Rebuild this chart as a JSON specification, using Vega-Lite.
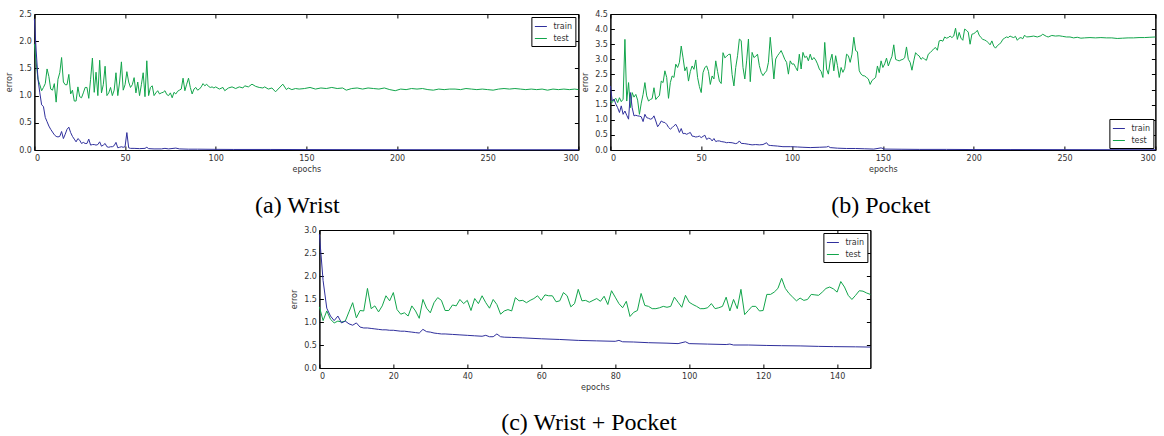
{
  "$schema": "https://vega.github.io/schema/vega-lite/v6.json",
  "padding": {"left": 5, "top": 9, "right": 2, "bottom": 2},
  "background": "white",
  "center": true,
  "spacing": 6,
  "resolve": {"scale": {"color": "independent"}, "legend": {"color": "independent"}},
  "datasets": {
    "a": [
      {"series":"test","epoch":0,"error":1.95},{"series":"test","epoch":1,"error":1.6},{"series":"test","epoch":2,"error":1.3},{"series":"test","epoch":3,"error":1.2},{"series":"test","epoch":4,"error":1.09},{"series":"test","epoch":5,"error":1.15},{"series":"test","epoch":6,"error":1.22},{"series":"test","epoch":7,"error":1.49},{"series":"test","epoch":8,"error":1.35},{"series":"test","epoch":9,"error":1.12},{"series":"test","epoch":10,"error":1.1},{"series":"test","epoch":11,"error":1.22},{"series":"test","epoch":12,"error":0.88},{"series":"test","epoch":13,"error":1.3},{"series":"test","epoch":14,"error":1.42},{"series":"test","epoch":15,"error":1.7},{"series":"test","epoch":16,"error":1.25},{"series":"test","epoch":17,"error":1.2},{"series":"test","epoch":18,"error":1.2},{"series":"test","epoch":19,"error":1.39},{"series":"test","epoch":20,"error":1.03},{"series":"test","epoch":21,"error":1.1},{"series":"test","epoch":22,"error":0.9},{"series":"test","epoch":23,"error":0.9},{"series":"test","epoch":24,"error":1.16},{"series":"test","epoch":25,"error":0.98},{"series":"test","epoch":26,"error":0.96},{"series":"test","epoch":27,"error":1.05},{"series":"test","epoch":28,"error":1.15},{"series":"test","epoch":29,"error":1.15},{"series":"test","epoch":30,"error":0.95},{"series":"test","epoch":31,"error":1.3},{"series":"test","epoch":32,"error":1.69},{"series":"test","epoch":33,"error":1.06},{"series":"test","epoch":34,"error":1.43},{"series":"test","epoch":35,"error":1.0},{"series":"test","epoch":36,"error":1.65},{"series":"test","epoch":37,"error":1.05},{"series":"test","epoch":38,"error":1.2},{"series":"test","epoch":39,"error":1.54},{"series":"test","epoch":40,"error":1.0},{"series":"test","epoch":41,"error":1.05},{"series":"test","epoch":42,"error":1.15},{"series":"test","epoch":43,"error":1.0},{"series":"test","epoch":44,"error":1.1},{"series":"test","epoch":45,"error":1.42},{"series":"test","epoch":46,"error":1.0},{"series":"test","epoch":47,"error":1.25},{"series":"test","epoch":48,"error":1.62},{"series":"test","epoch":49,"error":1.1},{"series":"test","epoch":50,"error":1.2},{"series":"test","epoch":51,"error":1.44},{"series":"test","epoch":52,"error":1.25},{"series":"test","epoch":53,"error":1.15},{"series":"test","epoch":54,"error":1.2},{"series":"test","epoch":55,"error":1.33},{"series":"test","epoch":56,"error":1.05},{"series":"test","epoch":57,"error":1.25},{"series":"test","epoch":58,"error":1.0},{"series":"test","epoch":59,"error":1.2},{"series":"test","epoch":60,"error":1.42},{"series":"test","epoch":61,"error":0.98},{"series":"test","epoch":62,"error":1.64},{"series":"test","epoch":63,"error":1.0},{"series":"test","epoch":64,"error":1.15},{"series":"test","epoch":65,"error":1.18},{"series":"test","epoch":66,"error":1.0},{"series":"test","epoch":67,"error":1.05},{"series":"test","epoch":68,"error":1.09},{"series":"test","epoch":69,"error":1.03},{"series":"test","epoch":70,"error":1.05},{"series":"test","epoch":71,"error":1.06},{"series":"test","epoch":72,"error":1.09},{"series":"test","epoch":73,"error":1.02},{"series":"test","epoch":74,"error":1.0},{"series":"test","epoch":75,"error":1.05},{"series":"test","epoch":76,"error":0.96},{"series":"test","epoch":77,"error":1.06},{"series":"test","epoch":78,"error":1.03},{"series":"test","epoch":79,"error":1.08},{"series":"test","epoch":80,"error":1.1},{"series":"test","epoch":81,"error":1.12},{"series":"test","epoch":82,"error":1.32},{"series":"test","epoch":83,"error":1.09},{"series":"test","epoch":84,"error":1.21},{"series":"test","epoch":85,"error":1.32},{"series":"test","epoch":86,"error":1.15},{"series":"test","epoch":87,"error":1.03},{"series":"test","epoch":88,"error":1.12},{"series":"test","epoch":89,"error":1.15},{"series":"test","epoch":90,"error":1.1},{"series":"test","epoch":91,"error":1.12},{"series":"test","epoch":92,"error":1.16},{"series":"test","epoch":93,"error":1.22},{"series":"test","epoch":94,"error":1.18},{"series":"test","epoch":95,"error":1.21},{"series":"test","epoch":96,"error":1.17},{"series":"test","epoch":97,"error":1.15},{"series":"test","epoch":98,"error":1.16},{"series":"test","epoch":99,"error":1.14},{"series":"test","epoch":100,"error":1.16},{"series":"test","epoch":102,"error":1.12},{"series":"test","epoch":104,"error":1.15},{"series":"test","epoch":105,"error":1.09},{"series":"test","epoch":107,"error":1.14},{"series":"test","epoch":109,"error":1.16},{"series":"test","epoch":111,"error":1.13},{"series":"test","epoch":113,"error":1.16},{"series":"test","epoch":115,"error":1.14},{"series":"test","epoch":116,"error":1.18},{"series":"test","epoch":118,"error":1.16},{"series":"test","epoch":120,"error":1.21},{"series":"test","epoch":122,"error":1.17},{"series":"test","epoch":124,"error":1.15},{"series":"test","epoch":126,"error":1.14},{"series":"test","epoch":127,"error":1.16},{"series":"test","epoch":129,"error":1.12},{"series":"test","epoch":131,"error":1.14},{"series":"test","epoch":133,"error":1.07},{"series":"test","epoch":135,"error":1.14},{"series":"test","epoch":137,"error":1.21},{"series":"test","epoch":139,"error":1.11},{"series":"test","epoch":140,"error":1.14},{"series":"test","epoch":142,"error":1.11},{"series":"test","epoch":144,"error":1.13},{"series":"test","epoch":146,"error":1.12},{"series":"test","epoch":149,"error":1.13},{"series":"test","epoch":152,"error":1.15},{"series":"test","epoch":155,"error":1.12},{"series":"test","epoch":158,"error":1.14},{"series":"test","epoch":161,"error":1.13},{"series":"test","epoch":164,"error":1.15},{"series":"test","epoch":167,"error":1.13},{"series":"test","epoch":170,"error":1.14},{"series":"test","epoch":172,"error":1.1},{"series":"test","epoch":175,"error":1.13},{"series":"test","epoch":178,"error":1.14},{"series":"test","epoch":181,"error":1.12},{"series":"test","epoch":184,"error":1.14},{"series":"test","epoch":187,"error":1.13},{"series":"test","epoch":190,"error":1.12},{"series":"test","epoch":193,"error":1.14},{"series":"test","epoch":196,"error":1.11},{"series":"test","epoch":199,"error":1.09},{"series":"test","epoch":202,"error":1.12},{"series":"test","epoch":205,"error":1.11},{"series":"test","epoch":208,"error":1.13},{"series":"test","epoch":211,"error":1.12},{"series":"test","epoch":214,"error":1.13},{"series":"test","epoch":217,"error":1.11},{"series":"test","epoch":220,"error":1.1},{"series":"test","epoch":223,"error":1.12},{"series":"test","epoch":226,"error":1.11},{"series":"test","epoch":229,"error":1.12},{"series":"test","epoch":232,"error":1.12},{"series":"test","epoch":235,"error":1.11},{"series":"test","epoch":238,"error":1.13},{"series":"test","epoch":241,"error":1.12},{"series":"test","epoch":244,"error":1.11},{"series":"test","epoch":247,"error":1.12},{"series":"test","epoch":250,"error":1.11},{"series":"test","epoch":253,"error":1.1},{"series":"test","epoch":256,"error":1.12},{"series":"test","epoch":259,"error":1.13},{"series":"test","epoch":262,"error":1.12},{"series":"test","epoch":265,"error":1.13},{"series":"test","epoch":268,"error":1.12},{"series":"test","epoch":271,"error":1.11},{"series":"test","epoch":274,"error":1.12},{"series":"test","epoch":277,"error":1.11},{"series":"test","epoch":280,"error":1.12},{"series":"test","epoch":283,"error":1.1},{"series":"test","epoch":286,"error":1.12},{"series":"test","epoch":289,"error":1.11},{"series":"test","epoch":292,"error":1.12},{"series":"test","epoch":295,"error":1.11},{"series":"test","epoch":298,"error":1.12},{"series":"test","epoch":300,"error":1.11},
      {"series":"train","epoch":0,"error":2.41},{"series":"train","epoch":1,"error":1.82},{"series":"train","epoch":2,"error":1.3},{"series":"train","epoch":3,"error":1.05},{"series":"train","epoch":4,"error":0.83},{"series":"train","epoch":5,"error":0.8},{"series":"train","epoch":6,"error":0.6},{"series":"train","epoch":7,"error":0.52},{"series":"train","epoch":8,"error":0.44},{"series":"train","epoch":9,"error":0.38},{"series":"train","epoch":10,"error":0.33},{"series":"train","epoch":11,"error":0.28},{"series":"train","epoch":12,"error":0.25},{"series":"train","epoch":13,"error":0.24},{"series":"train","epoch":14,"error":0.25},{"series":"train","epoch":15,"error":0.34},{"series":"train","epoch":16,"error":0.21},{"series":"train","epoch":17,"error":0.29},{"series":"train","epoch":18,"error":0.38},{"series":"train","epoch":19,"error":0.42},{"series":"train","epoch":20,"error":0.32},{"series":"train","epoch":21,"error":0.25},{"series":"train","epoch":22,"error":0.2},{"series":"train","epoch":23,"error":0.15},{"series":"train","epoch":24,"error":0.21},{"series":"train","epoch":25,"error":0.18},{"series":"train","epoch":26,"error":0.12},{"series":"train","epoch":27,"error":0.14},{"series":"train","epoch":28,"error":0.12},{"series":"train","epoch":29,"error":0.12},{"series":"train","epoch":30,"error":0.2},{"series":"train","epoch":31,"error":0.09},{"series":"train","epoch":32,"error":0.1},{"series":"train","epoch":33,"error":0.1},{"series":"train","epoch":34,"error":0.09},{"series":"train","epoch":35,"error":0.1},{"series":"train","epoch":36,"error":0.15},{"series":"train","epoch":37,"error":0.07},{"series":"train","epoch":38,"error":0.09},{"series":"train","epoch":39,"error":0.12},{"series":"train","epoch":40,"error":0.06},{"series":"train","epoch":41,"error":0.05},{"series":"train","epoch":42,"error":0.06},{"series":"train","epoch":43,"error":0.06},{"series":"train","epoch":44,"error":0.08},{"series":"train","epoch":45,"error":0.14},{"series":"train","epoch":46,"error":0.04},{"series":"train","epoch":47,"error":0.05},{"series":"train","epoch":48,"error":0.06},{"series":"train","epoch":49,"error":0.05},{"series":"train","epoch":50,"error":0.06},{"series":"train","epoch":51,"error":0.32},{"series":"train","epoch":52,"error":0.04},{"series":"train","epoch":53,"error":0.03},{"series":"train","epoch":55,"error":0.03},{"series":"train","epoch":58,"error":0.025},{"series":"train","epoch":61,"error":0.03},{"series":"train","epoch":62,"error":0.05},{"series":"train","epoch":63,"error":0.025},{"series":"train","epoch":66,"error":0.02},{"series":"train","epoch":70,"error":0.02},{"series":"train","epoch":72,"error":0.03},{"series":"train","epoch":74,"error":0.02},{"series":"train","epoch":78,"error":0.035},{"series":"train","epoch":80,"error":0.02},{"series":"train","epoch":85,"error":0.015},{"series":"train","epoch":90,"error":0.015},{"series":"train","epoch":100,"error":0.012},{"series":"train","epoch":110,"error":0.01},{"series":"train","epoch":130,"error":0.01},{"series":"train","epoch":150,"error":0.008},{"series":"train","epoch":200,"error":0.006},{"series":"train","epoch":250,"error":0.005},{"series":"train","epoch":300,"error":0.005}
    ],
    "b": [
      {"series":"test","epoch":0,"error":1.62},{"series":"test","epoch":1,"error":1.57},{"series":"test","epoch":2,"error":1.66},{"series":"test","epoch":3,"error":1.71},{"series":"test","epoch":4,"error":1.57},{"series":"test","epoch":5,"error":1.73},{"series":"test","epoch":6,"error":1.6},{"series":"test","epoch":7,"error":1.68},{"series":"test","epoch":8,"error":3.66},{"series":"test","epoch":9,"error":1.62},{"series":"test","epoch":10,"error":2.23},{"series":"test","epoch":11,"error":1.4},{"series":"test","epoch":12,"error":1.9},{"series":"test","epoch":13,"error":1.75},{"series":"test","epoch":14,"error":1.84},{"series":"test","epoch":15,"error":1.65},{"series":"test","epoch":16,"error":1.18},{"series":"test","epoch":17,"error":1.55},{"series":"test","epoch":18,"error":1.84},{"series":"test","epoch":19,"error":2.23},{"series":"test","epoch":20,"error":1.79},{"series":"test","epoch":21,"error":1.62},{"series":"test","epoch":22,"error":1.67},{"series":"test","epoch":23,"error":1.7},{"series":"test","epoch":24,"error":2.06},{"series":"test","epoch":25,"error":1.67},{"series":"test","epoch":26,"error":1.75},{"series":"test","epoch":27,"error":1.8},{"series":"test","epoch":28,"error":2.28},{"series":"test","epoch":29,"error":2.23},{"series":"test","epoch":30,"error":2.62},{"series":"test","epoch":31,"error":2.4},{"series":"test","epoch":32,"error":1.71},{"series":"test","epoch":33,"error":2.23},{"series":"test","epoch":34,"error":2.45},{"series":"test","epoch":35,"error":2.4},{"series":"test","epoch":36,"error":2.84},{"series":"test","epoch":37,"error":2.73},{"series":"test","epoch":38,"error":2.9},{"series":"test","epoch":39,"error":3.44},{"series":"test","epoch":40,"error":3.05},{"series":"test","epoch":41,"error":2.62},{"series":"test","epoch":42,"error":2.75},{"series":"test","epoch":43,"error":2.28},{"series":"test","epoch":44,"error":2.6},{"series":"test","epoch":45,"error":2.78},{"series":"test","epoch":46,"error":2.67},{"series":"test","epoch":47,"error":2.98},{"series":"test","epoch":48,"error":2.4},{"series":"test","epoch":49,"error":2.1},{"series":"test","epoch":50,"error":1.9},{"series":"test","epoch":51,"error":2.56},{"series":"test","epoch":52,"error":2.73},{"series":"test","epoch":53,"error":2.78},{"series":"test","epoch":54,"error":2.6},{"series":"test","epoch":55,"error":2.17},{"series":"test","epoch":56,"error":2.45},{"series":"test","epoch":57,"error":2.35},{"series":"test","epoch":58,"error":2.95},{"series":"test","epoch":59,"error":2.6},{"series":"test","epoch":60,"error":2.28},{"series":"test","epoch":61,"error":2.2},{"series":"test","epoch":62,"error":3.22},{"series":"test","epoch":63,"error":3.05},{"series":"test","epoch":64,"error":3.1},{"series":"test","epoch":65,"error":3.16},{"series":"test","epoch":66,"error":3.17},{"series":"test","epoch":67,"error":2.5},{"series":"test","epoch":68,"error":2.12},{"series":"test","epoch":69,"error":2.73},{"series":"test","epoch":70,"error":3.12},{"series":"test","epoch":71,"error":3.67},{"series":"test","epoch":72,"error":3.62},{"series":"test","epoch":73,"error":2.73},{"series":"test","epoch":74,"error":2.35},{"series":"test","epoch":75,"error":2.95},{"series":"test","epoch":76,"error":3.67},{"series":"test","epoch":77,"error":2.26},{"series":"test","epoch":78,"error":3.23},{"series":"test","epoch":79,"error":3.06},{"series":"test","epoch":80,"error":3.1},{"series":"test","epoch":81,"error":3.17},{"series":"test","epoch":82,"error":2.79},{"series":"test","epoch":83,"error":2.57},{"series":"test","epoch":84,"error":2.46},{"series":"test","epoch":85,"error":2.55},{"series":"test","epoch":86,"error":2.62},{"series":"test","epoch":87,"error":2.9},{"series":"test","epoch":88,"error":3.73},{"series":"test","epoch":89,"error":3.05},{"series":"test","epoch":90,"error":2.35},{"series":"test","epoch":91,"error":3.01},{"series":"test","epoch":92,"error":3.12},{"series":"test","epoch":93,"error":3.2},{"series":"test","epoch":94,"error":3.29},{"series":"test","epoch":95,"error":3.15},{"series":"test","epoch":96,"error":3.0},{"series":"test","epoch":97,"error":2.9},{"series":"test","epoch":98,"error":2.51},{"series":"test","epoch":99,"error":2.95},{"series":"test","epoch":100,"error":2.84},{"series":"test","epoch":101,"error":2.85},{"series":"test","epoch":102,"error":2.73},{"series":"test","epoch":103,"error":2.62},{"series":"test","epoch":104,"error":3.17},{"series":"test","epoch":105,"error":2.68},{"series":"test","epoch":106,"error":3.23},{"series":"test","epoch":107,"error":3.06},{"series":"test","epoch":108,"error":3.1},{"series":"test","epoch":109,"error":2.95},{"series":"test","epoch":110,"error":3.17},{"series":"test","epoch":111,"error":2.98},{"series":"test","epoch":112,"error":3.06},{"series":"test","epoch":113,"error":2.98},{"series":"test","epoch":114,"error":2.85},{"series":"test","epoch":115,"error":2.68},{"series":"test","epoch":116,"error":2.6},{"series":"test","epoch":117,"error":2.4},{"series":"test","epoch":118,"error":3.56},{"series":"test","epoch":119,"error":2.68},{"series":"test","epoch":120,"error":2.51},{"series":"test","epoch":121,"error":2.95},{"series":"test","epoch":122,"error":3.17},{"series":"test","epoch":123,"error":2.62},{"series":"test","epoch":124,"error":3.12},{"series":"test","epoch":125,"error":2.79},{"series":"test","epoch":126,"error":2.4},{"series":"test","epoch":127,"error":2.73},{"series":"test","epoch":128,"error":2.57},{"series":"test","epoch":129,"error":2.7},{"series":"test","epoch":130,"error":3.17},{"series":"test","epoch":131,"error":3.12},{"series":"test","epoch":132,"error":2.9},{"series":"test","epoch":133,"error":3.17},{"series":"test","epoch":134,"error":3.73},{"series":"test","epoch":135,"error":3.29},{"series":"test","epoch":136,"error":3.25},{"series":"test","epoch":137,"error":2.62},{"series":"test","epoch":138,"error":2.51},{"series":"test","epoch":139,"error":2.46},{"series":"test","epoch":140,"error":2.45},{"series":"test","epoch":141,"error":2.4},{"series":"test","epoch":142,"error":2.35},{"series":"test","epoch":143,"error":2.17},{"series":"test","epoch":144,"error":2.3},{"series":"test","epoch":145,"error":2.35},{"series":"test","epoch":146,"error":2.4},{"series":"test","epoch":147,"error":2.78},{"series":"test","epoch":148,"error":2.56},{"series":"test","epoch":149,"error":2.95},{"series":"test","epoch":150,"error":2.73},{"series":"test","epoch":151,"error":2.85},{"series":"test","epoch":152,"error":3.04},{"series":"test","epoch":153,"error":2.78},{"series":"test","epoch":154,"error":2.95},{"series":"test","epoch":155,"error":3.1},{"series":"test","epoch":156,"error":3.48},{"series":"test","epoch":157,"error":3.0},{"series":"test","epoch":158,"error":2.97},{"series":"test","epoch":159,"error":2.95},{"series":"test","epoch":160,"error":2.98},{"series":"test","epoch":161,"error":3.0},{"series":"test","epoch":162,"error":3.05},{"series":"test","epoch":163,"error":3.41},{"series":"test","epoch":164,"error":3.0},{"series":"test","epoch":165,"error":2.9},{"series":"test","epoch":166,"error":2.64},{"series":"test","epoch":167,"error":2.95},{"series":"test","epoch":168,"error":3.22},{"series":"test","epoch":169,"error":3.15},{"series":"test","epoch":170,"error":3.11},{"series":"test","epoch":171,"error":3.0},{"series":"test","epoch":172,"error":3.06},{"series":"test","epoch":173,"error":3.0},{"series":"test","epoch":174,"error":2.97},{"series":"test","epoch":175,"error":3.17},{"series":"test","epoch":176,"error":3.22},{"series":"test","epoch":177,"error":3.28},{"series":"test","epoch":178,"error":3.35},{"series":"test","epoch":179,"error":3.39},{"series":"test","epoch":180,"error":3.3},{"series":"test","epoch":181,"error":3.61},{"series":"test","epoch":182,"error":3.63},{"series":"test","epoch":183,"error":3.6},{"series":"test","epoch":184,"error":3.74},{"series":"test","epoch":185,"error":3.7},{"series":"test","epoch":186,"error":3.72},{"series":"test","epoch":187,"error":3.77},{"series":"test","epoch":188,"error":3.72},{"series":"test","epoch":189,"error":3.77},{"series":"test","epoch":190,"error":4.03},{"series":"test","epoch":191,"error":3.66},{"series":"test","epoch":192,"error":3.89},{"series":"test","epoch":193,"error":3.7},{"series":"test","epoch":194,"error":3.63},{"series":"test","epoch":195,"error":4.0},{"series":"test","epoch":196,"error":3.96},{"series":"test","epoch":197,"error":3.9},{"series":"test","epoch":198,"error":3.5},{"series":"test","epoch":199,"error":3.83},{"series":"test","epoch":200,"error":3.85},{"series":"test","epoch":201,"error":3.89},{"series":"test","epoch":202,"error":3.96},{"series":"test","epoch":203,"error":3.8},{"series":"test","epoch":204,"error":3.72},{"series":"test","epoch":205,"error":3.66},{"series":"test","epoch":206,"error":3.64},{"series":"test","epoch":207,"error":3.61},{"series":"test","epoch":208,"error":3.55},{"series":"test","epoch":209,"error":3.48},{"series":"test","epoch":210,"error":3.61},{"series":"test","epoch":211,"error":3.44},{"series":"test","epoch":212,"error":3.37},{"series":"test","epoch":213,"error":3.45},{"series":"test","epoch":214,"error":3.5},{"series":"test","epoch":215,"error":3.55},{"series":"test","epoch":216,"error":3.66},{"series":"test","epoch":217,"error":3.7},{"series":"test","epoch":218,"error":3.74},{"series":"test","epoch":219,"error":3.72},{"series":"test","epoch":220,"error":3.77},{"series":"test","epoch":221,"error":3.74},{"series":"test","epoch":222,"error":3.72},{"series":"test","epoch":223,"error":3.76},{"series":"test","epoch":224,"error":3.63},{"series":"test","epoch":225,"error":3.7},{"series":"test","epoch":226,"error":3.72},{"series":"test","epoch":227,"error":3.68},{"series":"test","epoch":228,"error":3.8},{"series":"test","epoch":229,"error":3.74},{"series":"test","epoch":231,"error":3.75},{"series":"test","epoch":233,"error":3.77},{"series":"test","epoch":235,"error":3.74},{"series":"test","epoch":237,"error":3.78},{"series":"test","epoch":238,"error":3.83},{"series":"test","epoch":240,"error":3.76},{"series":"test","epoch":241,"error":3.74},{"series":"test","epoch":243,"error":3.79},{"series":"test","epoch":245,"error":3.77},{"series":"test","epoch":247,"error":3.78},{"series":"test","epoch":249,"error":3.76},{"series":"test","epoch":251,"error":3.74},{"series":"test","epoch":253,"error":3.74},{"series":"test","epoch":255,"error":3.71},{"series":"test","epoch":257,"error":3.73},{"series":"test","epoch":259,"error":3.7},{"series":"test","epoch":261,"error":3.71},{"series":"test","epoch":264,"error":3.72},{"series":"test","epoch":267,"error":3.71},{"series":"test","epoch":270,"error":3.72},{"series":"test","epoch":273,"error":3.71},{"series":"test","epoch":276,"error":3.71},{"series":"test","epoch":279,"error":3.69},{"series":"test","epoch":282,"error":3.7},{"series":"test","epoch":285,"error":3.71},{"series":"test","epoch":288,"error":3.71},{"series":"test","epoch":291,"error":3.72},{"series":"test","epoch":294,"error":3.72},{"series":"test","epoch":297,"error":3.73},{"series":"test","epoch":300,"error":3.74},
      {"series":"train","epoch":0,"error":2.12},{"series":"train","epoch":1,"error":1.63},{"series":"train","epoch":2,"error":1.68},{"series":"train","epoch":3,"error":1.52},{"series":"train","epoch":4,"error":1.4},{"series":"train","epoch":5,"error":1.24},{"series":"train","epoch":6,"error":1.46},{"series":"train","epoch":7,"error":1.18},{"series":"train","epoch":8,"error":1.29},{"series":"train","epoch":9,"error":1.15},{"series":"train","epoch":10,"error":1.02},{"series":"train","epoch":11,"error":1.9},{"series":"train","epoch":12,"error":1.4},{"series":"train","epoch":13,"error":1.13},{"series":"train","epoch":14,"error":1.15},{"series":"train","epoch":15,"error":1.13},{"series":"train","epoch":16,"error":1.12},{"series":"train","epoch":17,"error":1.1},{"series":"train","epoch":18,"error":0.94},{"series":"train","epoch":19,"error":1.18},{"series":"train","epoch":20,"error":1.07},{"series":"train","epoch":21,"error":1.05},{"series":"train","epoch":22,"error":1.02},{"series":"train","epoch":23,"error":1.04},{"series":"train","epoch":24,"error":1.13},{"series":"train","epoch":25,"error":0.96},{"series":"train","epoch":26,"error":0.77},{"series":"train","epoch":27,"error":0.85},{"series":"train","epoch":28,"error":0.96},{"series":"train","epoch":29,"error":0.92},{"series":"train","epoch":30,"error":0.91},{"series":"train","epoch":31,"error":0.85},{"series":"train","epoch":32,"error":0.75},{"series":"train","epoch":33,"error":0.69},{"series":"train","epoch":34,"error":0.74},{"series":"train","epoch":35,"error":0.8},{"series":"train","epoch":36,"error":0.85},{"series":"train","epoch":37,"error":0.74},{"series":"train","epoch":38,"error":0.58},{"series":"train","epoch":39,"error":0.71},{"series":"train","epoch":40,"error":0.54},{"series":"train","epoch":41,"error":0.55},{"series":"train","epoch":42,"error":0.52},{"series":"train","epoch":43,"error":0.55},{"series":"train","epoch":44,"error":0.58},{"series":"train","epoch":45,"error":0.46},{"series":"train","epoch":46,"error":0.45},{"series":"train","epoch":47,"error":0.43},{"series":"train","epoch":48,"error":0.44},{"series":"train","epoch":49,"error":0.46},{"series":"train","epoch":50,"error":0.41},{"series":"train","epoch":51,"error":0.45},{"series":"train","epoch":52,"error":0.49},{"series":"train","epoch":53,"error":0.35},{"series":"train","epoch":54,"error":0.39},{"series":"train","epoch":55,"error":0.38},{"series":"train","epoch":56,"error":0.3},{"series":"train","epoch":57,"error":0.38},{"series":"train","epoch":58,"error":0.28},{"series":"train","epoch":59,"error":0.3},{"series":"train","epoch":60,"error":0.3},{"series":"train","epoch":61,"error":0.28},{"series":"train","epoch":62,"error":0.27},{"series":"train","epoch":63,"error":0.26},{"series":"train","epoch":64,"error":0.24},{"series":"train","epoch":65,"error":0.25},{"series":"train","epoch":67,"error":0.24},{"series":"train","epoch":69,"error":0.21},{"series":"train","epoch":70,"error":0.23},{"series":"train","epoch":71,"error":0.3},{"series":"train","epoch":72,"error":0.22},{"series":"train","epoch":74,"error":0.21},{"series":"train","epoch":76,"error":0.19},{"series":"train","epoch":78,"error":0.17},{"series":"train","epoch":80,"error":0.18},{"series":"train","epoch":82,"error":0.17},{"series":"train","epoch":84,"error":0.18},{"series":"train","epoch":86,"error":0.24},{"series":"train","epoch":87,"error":0.16},{"series":"train","epoch":88,"error":0.15},{"series":"train","epoch":90,"error":0.14},{"series":"train","epoch":92,"error":0.13},{"series":"train","epoch":95,"error":0.11},{"series":"train","epoch":99,"error":0.11},{"series":"train","epoch":103,"error":0.1},{"series":"train","epoch":106,"error":0.09},{"series":"train","epoch":110,"error":0.08},{"series":"train","epoch":115,"error":0.09},{"series":"train","epoch":119,"error":0.1},{"series":"train","epoch":120,"error":0.12},{"series":"train","epoch":121,"error":0.08},{"series":"train","epoch":125,"error":0.06},{"series":"train","epoch":130,"error":0.05},{"series":"train","epoch":135,"error":0.05},{"series":"train","epoch":140,"error":0.04},{"series":"train","epoch":145,"error":0.03},{"series":"train","epoch":149,"error":0.07},{"series":"train","epoch":151,"error":0.03},{"series":"train","epoch":160,"error":0.025},{"series":"train","epoch":170,"error":0.02},{"series":"train","epoch":185,"error":0.02},{"series":"train","epoch":200,"error":0.015},{"series":"train","epoch":220,"error":0.015},{"series":"train","epoch":250,"error":0.012},{"series":"train","epoch":280,"error":0.01},{"series":"train","epoch":300,"error":0.01}
    ],
    "c": [
      {"series":"test","epoch":0,"error":1.33},{"series":"test","epoch":1,"error":1.03},{"series":"test","epoch":2,"error":1.24},{"series":"test","epoch":3,"error":1.06},{"series":"test","epoch":4,"error":0.98},{"series":"test","epoch":5,"error":1.02},{"series":"test","epoch":6,"error":1.0},{"series":"test","epoch":7,"error":1.02},{"series":"test","epoch":8,"error":1.22},{"series":"test","epoch":9,"error":1.42},{"series":"test","epoch":10,"error":1.09},{"series":"test","epoch":11,"error":1.25},{"series":"test","epoch":12,"error":1.24},{"series":"test","epoch":13,"error":1.73},{"series":"test","epoch":14,"error":1.29},{"series":"test","epoch":15,"error":1.35},{"series":"test","epoch":16,"error":1.22},{"series":"test","epoch":17,"error":1.35},{"series":"test","epoch":18,"error":1.57},{"series":"test","epoch":19,"error":1.46},{"series":"test","epoch":20,"error":1.64},{"series":"test","epoch":21,"error":1.27},{"series":"test","epoch":22,"error":1.17},{"series":"test","epoch":23,"error":1.2},{"series":"test","epoch":24,"error":1.13},{"series":"test","epoch":25,"error":1.35},{"series":"test","epoch":26,"error":1.24},{"series":"test","epoch":27,"error":1.08},{"series":"test","epoch":28,"error":1.49},{"series":"test","epoch":29,"error":1.3},{"series":"test","epoch":30,"error":1.2},{"series":"test","epoch":31,"error":1.42},{"series":"test","epoch":32,"error":1.53},{"series":"test","epoch":33,"error":1.47},{"series":"test","epoch":34,"error":1.25},{"series":"test","epoch":35,"error":1.25},{"series":"test","epoch":36,"error":1.37},{"series":"test","epoch":37,"error":1.35},{"series":"test","epoch":38,"error":1.49},{"series":"test","epoch":39,"error":1.4},{"series":"test","epoch":40,"error":1.47},{"series":"test","epoch":41,"error":1.25},{"series":"test","epoch":42,"error":1.51},{"series":"test","epoch":43,"error":1.4},{"series":"test","epoch":44,"error":1.57},{"series":"test","epoch":45,"error":1.42},{"series":"test","epoch":46,"error":1.3},{"series":"test","epoch":47,"error":1.49},{"series":"test","epoch":48,"error":1.38},{"series":"test","epoch":49,"error":1.17},{"series":"test","epoch":50,"error":1.24},{"series":"test","epoch":51,"error":1.27},{"series":"test","epoch":52,"error":1.24},{"series":"test","epoch":53,"error":1.53},{"series":"test","epoch":54,"error":1.46},{"series":"test","epoch":55,"error":1.47},{"series":"test","epoch":56,"error":1.42},{"series":"test","epoch":57,"error":1.47},{"series":"test","epoch":58,"error":1.51},{"series":"test","epoch":59,"error":1.57},{"series":"test","epoch":60,"error":1.47},{"series":"test","epoch":61,"error":1.59},{"series":"test","epoch":62,"error":1.57},{"series":"test","epoch":63,"error":1.57},{"series":"test","epoch":64,"error":1.44},{"series":"test","epoch":65,"error":1.46},{"series":"test","epoch":66,"error":1.64},{"series":"test","epoch":67,"error":1.57},{"series":"test","epoch":68,"error":1.33},{"series":"test","epoch":69,"error":1.4},{"series":"test","epoch":70,"error":1.71},{"series":"test","epoch":71,"error":1.46},{"series":"test","epoch":72,"error":1.47},{"series":"test","epoch":73,"error":1.43},{"series":"test","epoch":74,"error":1.47},{"series":"test","epoch":75,"error":1.51},{"series":"test","epoch":76,"error":1.45},{"series":"test","epoch":77,"error":1.56},{"series":"test","epoch":78,"error":1.38},{"series":"test","epoch":79,"error":1.68},{"series":"test","epoch":80,"error":1.54},{"series":"test","epoch":81,"error":1.4},{"series":"test","epoch":82,"error":1.31},{"series":"test","epoch":83,"error":1.45},{"series":"test","epoch":84,"error":1.12},{"series":"test","epoch":85,"error":1.21},{"series":"test","epoch":86,"error":1.25},{"series":"test","epoch":87,"error":1.62},{"series":"test","epoch":88,"error":1.36},{"series":"test","epoch":89,"error":1.34},{"series":"test","epoch":90,"error":1.29},{"series":"test","epoch":91,"error":1.29},{"series":"test","epoch":92,"error":1.31},{"series":"test","epoch":93,"error":1.34},{"series":"test","epoch":94,"error":1.32},{"series":"test","epoch":95,"error":1.34},{"series":"test","epoch":96,"error":1.54},{"series":"test","epoch":97,"error":1.43},{"series":"test","epoch":98,"error":1.32},{"series":"test","epoch":99,"error":1.58},{"series":"test","epoch":100,"error":1.43},{"series":"test","epoch":101,"error":1.38},{"series":"test","epoch":102,"error":1.34},{"series":"test","epoch":103,"error":1.29},{"series":"test","epoch":104,"error":1.29},{"series":"test","epoch":105,"error":1.31},{"series":"test","epoch":106,"error":1.4},{"series":"test","epoch":107,"error":1.29},{"series":"test","epoch":108,"error":1.31},{"series":"test","epoch":109,"error":1.34},{"series":"test","epoch":110,"error":1.54},{"series":"test","epoch":111,"error":1.24},{"series":"test","epoch":112,"error":1.49},{"series":"test","epoch":113,"error":1.29},{"series":"test","epoch":114,"error":1.71},{"series":"test","epoch":115,"error":1.16},{"series":"test","epoch":116,"error":1.25},{"series":"test","epoch":117,"error":1.34},{"series":"test","epoch":118,"error":1.34},{"series":"test","epoch":119,"error":1.24},{"series":"test","epoch":120,"error":1.25},{"series":"test","epoch":121,"error":1.6},{"series":"test","epoch":122,"error":1.6},{"series":"test","epoch":123,"error":1.65},{"series":"test","epoch":124,"error":1.73},{"series":"test","epoch":125,"error":1.95},{"series":"test","epoch":126,"error":1.73},{"series":"test","epoch":127,"error":1.62},{"series":"test","epoch":128,"error":1.54},{"series":"test","epoch":129,"error":1.46},{"series":"test","epoch":130,"error":1.52},{"series":"test","epoch":131,"error":1.47},{"series":"test","epoch":132,"error":1.49},{"series":"test","epoch":133,"error":1.6},{"series":"test","epoch":134,"error":1.59},{"series":"test","epoch":135,"error":1.58},{"series":"test","epoch":136,"error":1.65},{"series":"test","epoch":137,"error":1.73},{"series":"test","epoch":138,"error":1.76},{"series":"test","epoch":139,"error":1.72},{"series":"test","epoch":140,"error":1.65},{"series":"test","epoch":141,"error":1.88},{"series":"test","epoch":142,"error":1.76},{"series":"test","epoch":143,"error":1.58},{"series":"test","epoch":144,"error":1.49},{"series":"test","epoch":145,"error":1.58},{"series":"test","epoch":146,"error":1.68},{"series":"test","epoch":147,"error":1.67},{"series":"test","epoch":148,"error":1.63},{"series":"test","epoch":149,"error":1.6},
      {"series":"train","epoch":0,"error":2.91},{"series":"train","epoch":1,"error":1.9},{"series":"train","epoch":2,"error":1.3},{"series":"train","epoch":3,"error":1.13},{"series":"train","epoch":4,"error":1.03},{"series":"train","epoch":5,"error":1.13},{"series":"train","epoch":6,"error":0.98},{"series":"train","epoch":7,"error":1.02},{"series":"train","epoch":8,"error":0.96},{"series":"train","epoch":9,"error":0.93},{"series":"train","epoch":10,"error":0.98},{"series":"train","epoch":11,"error":0.89},{"series":"train","epoch":12,"error":0.87},{"series":"train","epoch":13,"error":0.87},{"series":"train","epoch":14,"error":0.86},{"series":"train","epoch":15,"error":0.85},{"series":"train","epoch":16,"error":0.84},{"series":"train","epoch":17,"error":0.83},{"series":"train","epoch":18,"error":0.83},{"series":"train","epoch":19,"error":0.82},{"series":"train","epoch":20,"error":0.82},{"series":"train","epoch":21,"error":0.81},{"series":"train","epoch":22,"error":0.8},{"series":"train","epoch":23,"error":0.8},{"series":"train","epoch":24,"error":0.79},{"series":"train","epoch":25,"error":0.78},{"series":"train","epoch":26,"error":0.77},{"series":"train","epoch":27,"error":0.76},{"series":"train","epoch":28,"error":0.84},{"series":"train","epoch":29,"error":0.79},{"series":"train","epoch":30,"error":0.78},{"series":"train","epoch":31,"error":0.76},{"series":"train","epoch":32,"error":0.75},{"series":"train","epoch":33,"error":0.74},{"series":"train","epoch":34,"error":0.74},{"series":"train","epoch":36,"error":0.73},{"series":"train","epoch":38,"error":0.72},{"series":"train","epoch":40,"error":0.71},{"series":"train","epoch":42,"error":0.7},{"series":"train","epoch":44,"error":0.69},{"series":"train","epoch":45,"error":0.71},{"series":"train","epoch":46,"error":0.68},{"series":"train","epoch":47,"error":0.68},{"series":"train","epoch":48,"error":0.74},{"series":"train","epoch":49,"error":0.68},{"series":"train","epoch":50,"error":0.67},{"series":"train","epoch":52,"error":0.665},{"series":"train","epoch":55,"error":0.655},{"series":"train","epoch":60,"error":0.635},{"series":"train","epoch":65,"error":0.62},{"series":"train","epoch":70,"error":0.6},{"series":"train","epoch":75,"error":0.59},{"series":"train","epoch":80,"error":0.58},{"series":"train","epoch":81,"error":0.6},{"series":"train","epoch":82,"error":0.57},{"series":"train","epoch":85,"error":0.565},{"series":"train","epoch":89,"error":0.55},{"series":"train","epoch":94,"error":0.54},{"series":"train","epoch":97,"error":0.53},{"series":"train","epoch":99,"error":0.57},{"series":"train","epoch":100,"error":0.53},{"series":"train","epoch":105,"error":0.52},{"series":"train","epoch":110,"error":0.51},{"series":"train","epoch":111,"error":0.52},{"series":"train","epoch":112,"error":0.5},{"series":"train","epoch":116,"error":0.5},{"series":"train","epoch":121,"error":0.49},{"series":"train","epoch":125,"error":0.485},{"series":"train","epoch":130,"error":0.48},{"series":"train","epoch":135,"error":0.47},{"series":"train","epoch":139,"error":0.465},{"series":"train","epoch":145,"error":0.46},{"series":"train","epoch":149,"error":0.455}
    ]
  },
  "vconcat": [
    {
      "hconcat": [
        {
          "width": 544, "height": 136,
          "data": {"name": "a"},
          "title": {"text": "(a) Wrist", "orient": "bottom", "offset": 21, "dx": -9},
          "layer": [
            {
              "mark": {"type": "line", "strokeWidth": 1},
              "encoding": {
                "x": {"field": "epoch", "type": "quantitative", "scale": {"domain": [0, 300], "nice": false, "zero": false}, "axis": {"values": [0, 50, 100, 150, 200, 250, 300], "title": "epochs"}},
                "y": {"field": "error", "type": "quantitative", "scale": {"domain": [0, 2.5], "nice": false}, "axis": {"values": [0, 0.5, 1, 1.5, 2, 2.5], "format": ".1f", "title": "error"}},
                "color": {"field": "series", "type": "nominal", "scale": {"domain": ["train", "test"], "range": ["#2f2f9c", "#12a54b"]}, "legend": {"title": null, "orient": "top-right"}}
              }
            },
            {
              "mark": {"type": "point", "opacity": 0},
              "encoding": {
                "x": {"field": "epoch", "type": "quantitative", "axis": {"orient": "top", "values": [0, 50, 100, 150, 200, 250, 300], "labels": false, "title": null}},
                "y": {"field": "error", "type": "quantitative", "axis": {"orient": "right", "values": [0, 0.5, 1, 1.5, 2, 2.5], "labels": false, "title": null}}
              }
            }
          ],
          "resolve": {"axis": {"x": "independent", "y": "independent"}}
        },
        {
          "width": 545, "height": 136,
          "data": {"name": "b"},
          "title": {"text": "(b) Pocket", "orient": "bottom", "offset": 21, "dx": -2},
          "layer": [
            {
              "mark": {"type": "line", "strokeWidth": 1},
              "encoding": {
                "x": {"field": "epoch", "type": "quantitative", "scale": {"domain": [0, 300], "nice": false, "zero": false}, "axis": {"values": [0, 50, 100, 150, 200, 250, 300], "title": "epochs"}},
                "y": {"field": "error", "type": "quantitative", "scale": {"domain": [0, 4.5], "nice": false}, "axis": {"values": [0, 0.5, 1, 1.5, 2, 2.5, 3, 3.5, 4, 4.5], "format": ".1f", "title": "error"}},
                "color": {"field": "series", "type": "nominal", "scale": {"domain": ["train", "test"], "range": ["#2f2f9c", "#12a54b"]}, "legend": {"title": null, "orient": "bottom-right", "offset": 2}}
              }
            },
            {
              "mark": {"type": "point", "opacity": 0},
              "encoding": {
                "x": {"field": "epoch", "type": "quantitative", "axis": {"orient": "top", "values": [0, 50, 100, 150, 200, 250, 300], "labels": false, "title": null}},
                "y": {"field": "error", "type": "quantitative", "axis": {"orient": "right", "values": [0, 0.5, 1, 1.5, 2, 2.5, 3, 3.5, 4, 4.5], "labels": false, "title": null}}
              }
            }
          ],
          "resolve": {"axis": {"x": "independent", "y": "independent"}}
        }
      ],
      "spacing": -2,
      "resolve": {"scale": {"color": "independent"}, "legend": {"color": "independent"}}
    },
    {
      "width": 551, "height": 138,
      "data": {"name": "c"},
      "title": {"text": "(c) Wrist + Pocket", "orient": "bottom", "offset": 20, "dx": -6},
      "layer": [
        {
          "mark": {"type": "line", "strokeWidth": 1},
          "encoding": {
            "x": {"field": "epoch", "type": "quantitative", "scale": {"domain": [0, 149], "nice": false, "zero": false}, "axis": {"values": [0, 20, 40, 60, 80, 100, 120, 140], "title": "epochs"}},
            "y": {"field": "error", "type": "quantitative", "scale": {"domain": [0, 3], "nice": false}, "axis": {"values": [0, 0.5, 1, 1.5, 2, 2.5, 3], "format": ".1f", "title": "error"}},
            "color": {"field": "series", "type": "nominal", "scale": {"domain": ["train", "test"], "range": ["#2f2f9c", "#12a54b"]}, "legend": {"title": null, "orient": "top-right"}}
          }
        },
        {
          "mark": {"type": "point", "opacity": 0},
          "encoding": {
            "x": {"field": "epoch", "type": "quantitative", "axis": {"orient": "top", "values": [0, 20, 40, 60, 80, 100, 120, 140], "labels": false, "title": null}},
            "y": {"field": "error", "type": "quantitative", "axis": {"orient": "right", "values": [0, 0.5, 1, 1.5, 2, 2.5, 3], "labels": false, "title": null}}
          }
        }
      ],
      "resolve": {"axis": {"x": "independent", "y": "independent"}}
    }
  ],
  "config": {
    "view": {"stroke": "black", "strokeWidth": 1},
    "axis": {
      "grid": false,
      "domainColor": "black",
      "tickColor": "black",
      "tickSize": -4,
      "labelPadding": 7,
      "labelFont": "DejaVu Sans",
      "labelFontSize": 8,
      "labelColor": "#333333",
      "titleFont": "DejaVu Sans",
      "titleFontSize": 8,
      "titleFontWeight": "normal",
      "titleColor": "#333333",
      "titlePadding": 3
    },
    "axisX": {"labelPadding": 8},
    "axisY": {"titlePadding": 5},
    "legend": {
      "offset": 3,
      "padding": 3,
      "strokeColor": "black",
      "strokeWidth": 1,
      "fillColor": "white",
      "cornerRadius": 0,
      "symbolType": "stroke",
      "symbolSize": 144,
      "symbolStrokeWidth": 1,
      "labelFont": "DejaVu Sans",
      "labelFontSize": 8,
      "labelColor": "#333333",
      "labelOffset": 6,
      "rowPadding": 1
    },
    "title": {"font": "Liberation Serif", "fontSize": 24, "fontWeight": "normal", "color": "black", "anchor": "middle"}
  }
}
